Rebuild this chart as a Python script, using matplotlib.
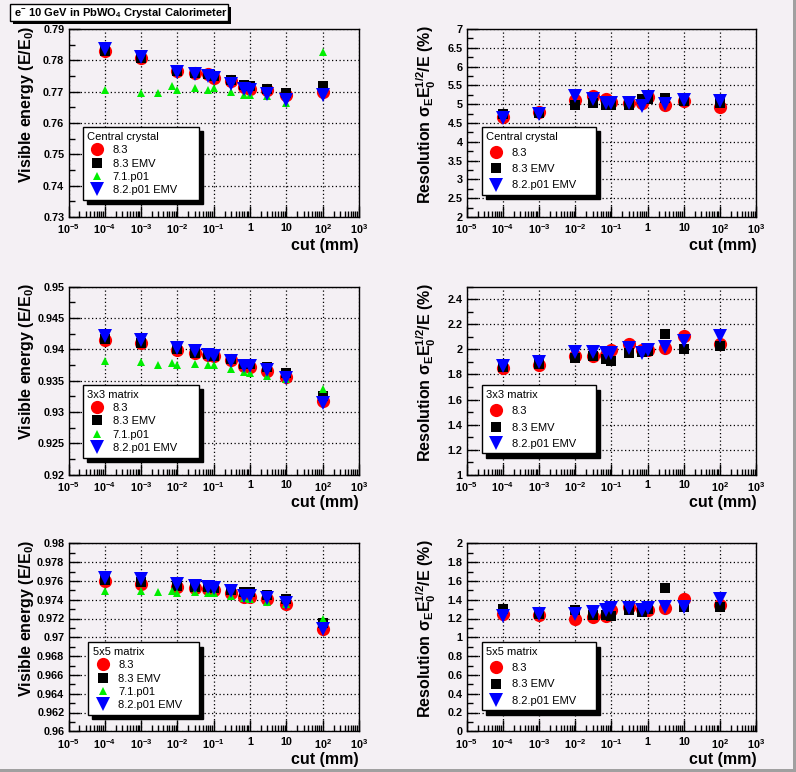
import numpy as np
import matplotlib
matplotlib.use('Agg')
import matplotlib.pyplot as plt
from matplotlib.ticker import (FixedLocator, FixedFormatter, MultipleLocator,
                               AutoMinorLocator, FuncFormatter, LogLocator, NullFormatter)
from matplotlib.patches import Rectangle

plt.rcParams['font.family'] = ['Liberation Sans', 'DejaVu Sans']
plt.rcParams['mathtext.fontset'] = 'custom'
plt.rcParams['mathtext.rm'] = 'Liberation Sans:bold'
plt.rcParams['mathtext.bf'] = 'Liberation Sans:bold'
plt.rcParams['mathtext.it'] = 'Liberation Sans:bold'
plt.rcParams['mathtext.sf'] = 'Liberation Sans:bold'
plt.rcParams['mathtext.default'] = 'rm'

# ---------------- data ----------------
cuts = [1e-4, 1e-3, 1e-2, 3e-2, 7e-2, 0.1, 0.3, 0.7, 1, 3, 10, 100]
cuts_71 = [1e-4, 1e-3, 3e-3, 7e-3, 1e-2, 3e-2, 7e-2, 0.1, 0.3, 0.7, 1, 3, 10, 100]

series_labels = ['8.3', '8.3 EMV', '7.1.p01', '8.2.p01 EMV']

# Central crystal - visible energy
cc_e_83 = [0.7829, 0.7809, 0.7766, 0.7760, 0.7757, 0.7744, 0.7735, 0.7715, 0.7710, 0.7704, 0.7688, 0.7699]
cc_e_83emv = [0.7830, 0.7808, 0.7765, 0.7760, 0.7755, 0.7750, 0.7738, 0.7722, 0.7718, 0.7708, 0.7696, 0.7719]
cc_e_71 = [0.7704, 0.7696, 0.7696, 0.7717, 0.7704, 0.7712, 0.7706, 0.7712, 0.7699, 0.7690, 0.7688, 0.7685, 0.7665, 0.7826]
cc_e_82emv = [0.7837, 0.7810, 0.7763, 0.7757, 0.7749, 0.7743, 0.7726, 0.7710, 0.7704, 0.7694, 0.7672, 0.7689]

# Central crystal - resolution
cc_r_83 = [4.65, 4.78, 5.10, 5.21, 5.15, 5.05, 5.04, 5.02, 5.19, 4.97, 5.09, 4.93]
cc_r_83emv = [4.74, 4.76, 4.97, 5.04, 4.97, 4.97, 4.97, 5.13, 5.15, 5.17, 5.08, 5.02]
cc_r_82emv = [4.63, 4.74, 5.23, 5.15, 5.04, 5.04, 5.04, 4.96, 5.20, 5.00, 5.10, 5.09]

# 3x3 matrix - visible energy
m3_e_83 = [0.9415, 0.9410, 0.9399, 0.9394, 0.9391, 0.9389, 0.9383, 0.9373, 0.9372, 0.9366, 0.9356, 0.9318]
m3_e_83emv = [0.9416, 0.9410, 0.9400, 0.9395, 0.9393, 0.9390, 0.9385, 0.9376, 0.9376, 0.9372, 0.9363, 0.9325]
m3_e_71 = [0.9382, 0.9380, 0.9375, 0.9379, 0.9375, 0.9377, 0.9375, 0.9375, 0.9369, 0.9364, 0.9363, 0.9358, 0.9352, 0.9337]
m3_e_82emv = [0.9421, 0.9415, 0.9402, 0.9397, 0.9391, 0.9390, 0.9382, 0.9374, 0.9374, 0.9367, 0.9354, 0.9314]

# 3x3 matrix - resolution
m3_r_83 = [1.849, 1.875, 1.947, 1.947, 1.955, 1.995, 2.04, 1.995, 1.995, 2.01, 2.11, 2.04]
m3_r_83emv = [1.86, 1.88, 1.93, 1.95, 1.92, 1.91, 1.97, 1.98, 1.99, 2.12, 2.00, 2.025]
m3_r_82emv = [1.867, 1.90, 1.98, 1.98, 1.97, 1.97, 2.01, 1.97, 1.995, 2.015, 2.07, 2.11]

# 5x5 matrix - visible energy
m5_e_83 = [0.9760, 0.9757, 0.9754, 0.9752, 0.9751, 0.9750, 0.9747, 0.9743, 0.9743, 0.9741, 0.9735, 0.9709]
m5_e_83emv = [0.9761, 0.9759, 0.9755, 0.9754, 0.9753, 0.9752, 0.9750, 0.9748, 0.9748, 0.9745, 0.9741, 0.9715]
m5_e_71 = [0.9749, 0.9749, 0.9748, 0.9749, 0.9747, 0.9748, 0.9747, 0.9747, 0.9744, 0.9742, 0.9741, 0.9738, 0.9735, 0.9720]
m5_e_82emv = [0.9763, 0.9762, 0.9757, 0.9755, 0.9753, 0.9752, 0.9749, 0.9744, 0.9744, 0.9742, 0.9736, 0.9709]

# 5x5 matrix - resolution
m5_r_83 = [1.245, 1.235, 1.20, 1.22, 1.225, 1.29, 1.325, 1.305, 1.29, 1.317, 1.41, 1.34]
m5_r_83emv = [1.306, 1.25, 1.29, 1.235, 1.235, 1.225, 1.29, 1.27, 1.30, 1.527, 1.32, 1.32]
m5_r_82emv = [1.224, 1.253, 1.25, 1.27, 1.29, 1.31, 1.31, 1.29, 1.31, 1.32, 1.32, 1.41]

x_ticks = [1e-5, 1e-4, 1e-3, 1e-2, 1e-1, 1, 10, 1e2, 1e3]
x_tick_labels = ['10$^{-5}$', '10$^{-4}$', '10$^{-3}$', '10$^{-2}$', '10$^{-1}$',
                 '1', '10', '10$^{2}$', '10$^{3}$']

title_text = 'e$^{-}$ 10 GeV in PbWO$_{4}$ Crystal Calorimeter'
ylabel_energy = 'Visible energy (E/E$_{0}$)'
ylabel_res = 'Resolution σ$_{E}$E$_{0}^{1/2}$/E (%)'
xlabel = 'cut (mm)'

# ---------------- styles ----------------
BG = '#f4f0f4'
styles = {
    '8.3': dict(marker='o', color='#ff0000', ms=9.5),
    '8.3 EMV': dict(marker='s', color='#000000', ms=6.5),
    '7.1.p01': dict(marker='^', color='#00ee00', ms=5.5),
    '8.2.p01 EMV': dict(marker='v', color='#0000ff', ms=9.5),
}

W, H = 796, 772
fig = plt.figure(figsize=(W / 100, H / 100), dpi=100, facecolor=BG)


def px_axes(x0, y0, x1, y1):
    return fig.add_axes([x0 / W, 1 - y1 / H, (x1 - x0) / W, (y1 - y0) / H])


panels = [
    (0, 0, (0.73, 0.79), 0.01, ylabel_energy, 'Central crystal',
     {'8.3': (cuts, cc_e_83), '8.3 EMV': (cuts, cc_e_83emv),
      '7.1.p01': (cuts_71, cc_e_71), '8.2.p01 EMV': (cuts, cc_e_82emv)},
     (0.049, 0.477, 0.40)),
    (1, 0, (2, 7), 0.5, ylabel_res, 'Central crystal',
     {'8.3': (cuts, cc_r_83), '8.3 EMV': (cuts, cc_r_83emv),
      '8.2.p01 EMV': (cuts, cc_r_82emv)},
     (0.052, 0.478, 0.394)),
    (0, 1, (0.92, 0.95), 0.005, ylabel_energy, '3x3 matrix',
     {'8.3': (cuts, m3_e_83), '8.3 EMV': (cuts, m3_e_83emv),
      '7.1.p01': (cuts_71, m3_e_71), '8.2.p01 EMV': (cuts, m3_e_82emv)},
     (0.049, 0.477, 0.40)),
    (1, 1, (1, 2.5), 0.2, ylabel_res, '3x3 matrix',
     {'8.3': (cuts, m3_r_83), '8.3 EMV': (cuts, m3_r_83emv),
      '8.2.p01 EMV': (cuts, m3_r_82emv)},
     (0.052, 0.475, 0.394)),
    (0, 2, (0.96, 0.98), 0.002, ylabel_energy, '5x5 matrix',
     {'8.3': (cuts, m5_e_83), '8.3 EMV': (cuts, m5_e_83emv),
      '7.1.p01': (cuts_71, m5_e_71), '8.2.p01 EMV': (cuts, m5_e_82emv)},
     (0.068, 0.473, 0.381)),
    (1, 2, (0, 2), 0.2, ylabel_res, '5x5 matrix',
     {'8.3': (cuts, m5_r_83), '8.3 EMV': (cuts, m5_r_83emv),
      '8.2.p01 EMV': (cuts, m5_r_82emv)},
     (0.052, 0.473, 0.394)),
]

col_x = [(68.5, 359.0), (466.7, 756.3)]
row_top = [29.0, 286.7, 543.3]
ax_h = 188.0

for col, row, ylim, major, ylab, leg_title, data, legpos in panels:
    x0, x1 = col_x[col]
    y0 = row_top[row]
    ax = px_axes(x0, y0, x1, y0 + ax_h)
    ax.set_facecolor(BG)
    ax.set_xscale('log')
    ax.set_xlim(1e-5, 1e3)
    ax.set_ylim(*ylim)

    ax.xaxis.set_major_locator(FixedLocator(x_ticks))
    ax.xaxis.set_major_formatter(FixedFormatter(x_tick_labels))
    ax.xaxis.set_minor_locator(LogLocator(base=10, subs=np.arange(2, 10), numticks=30))
    ax.xaxis.set_minor_formatter(NullFormatter())
    ax.yaxis.set_major_locator(MultipleLocator(major))
    ax.yaxis.set_minor_locator(AutoMinorLocator(2))
    ax.yaxis.set_major_formatter(FuncFormatter(lambda v, p: '%g' % round(v, 6)))

    ax.tick_params(which='both', direction='in', top=False, right=False,
                   colors='black', width=1)
    ax.tick_params(which='major', length=8)
    ax.tick_params(which='minor', length=4)
    ax.tick_params(axis='y', which='major', pad=3, labelsize=7.8)
    ax.tick_params(axis='x', which='major', pad=4, labelsize=7.8)
    for lab in ax.get_xticklabels() + ax.get_yticklabels():
        lab.set_fontweight('bold')
    for sp in ax.spines.values():
        sp.set_color('black')
        sp.set_linewidth(1)

    ax.grid(True, which='major', color='black', linestyle=(0, (1, 2)), linewidth=0.9)
    ax.set_axisbelow(True)

    handles = []
    for name, (xs, ys) in data.items():
        st = styles[name]
        h, = ax.plot(xs, ys, linestyle='none', marker=st['marker'],
                     color=st['color'], markersize=st['ms'],
                     markeredgewidth=0, label=name, clip_on=False, zorder=3)
        handles.append(h)

    ax.set_ylabel(ylab, fontsize=11.5, fontweight='bold', loc='top')
    ax.yaxis.set_label_coords(-0.112 if col == 0 else -0.100, 1.02)
    ax.set_xlabel(xlabel, fontsize=11.5, fontweight='bold', loc='right')
    ax.xaxis.set_label_coords(1.0, -0.11)

    lx, ly, lw = legpos
    nent = len(handles)
    leg = ax.legend(handles=handles, title=leg_title, loc='upper left',
                    bbox_to_anchor=(lx, ly, lw, 0.0), bbox_transform=ax.transAxes,
                    mode='expand', borderaxespad=0, frameon=True, fancybox=False,
                    edgecolor='black', facecolor='white', framealpha=1,
                    shadow={'ox': 3, 'oy': -3, 'facecolor': 'black',
                            'edgecolor': 'black', 'alpha': 1},
                    alignment='left', prop={'size': 8, 'weight': 'normal'},
                    title_fontproperties={'size': 8, 'weight': 'normal'},
                    handlelength=1.75, handletextpad=0.54, borderpad=0.42,
                    labelspacing=0.3 if nent == 4 else 0.56)
    leg.get_frame().set_linewidth(1)

# title box
tx0, ty0, tx1, ty1 = 10, 4, 228, 21
fig.patches.append(Rectangle(((tx0 + 3) / W, 1 - (ty1 + 3) / H), (tx1 - tx0) / W, (ty1 - ty0) / H,
                             transform=fig.transFigure, facecolor='black', edgecolor='none', zorder=1))
fig.patches.append(Rectangle((tx0 / W, 1 - ty1 / H), (tx1 - tx0) / W, (ty1 - ty0) / H,
                             transform=fig.transFigure, facecolor='white', edgecolor='black',
                             linewidth=1, zorder=2))
fig.text((tx0 + 3.5) / W, 1 - 12.5 / H, title_text, fontsize=8, fontweight='bold',
         ha='left', va='center', zorder=3)

# canvas border
fig.patches.append(Rectangle((793 / W, 0), 3 / W, 1, transform=fig.transFigure,
                             facecolor='#a0a0a0', edgecolor='none'))
fig.patches.append(Rectangle((0, 0), 1, 3 / H, transform=fig.transFigure,
                             facecolor='#a0a0a0', edgecolor='none'))

fig.savefig('out.png', dpi=100, facecolor=BG)
